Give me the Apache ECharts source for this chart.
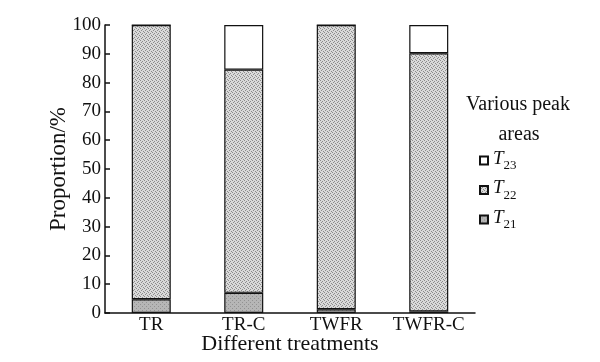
<!DOCTYPE html>
<html>
<head>
<meta charset="utf-8">
<script src="https://cdn.jsdelivr.net/npm/echarts@6/dist/echarts.min.js"></script>
<style>html,body{margin:0;padding:0;background:#fff}#c{width:600px;height:362px}</style>
</head>
<body>
<div id="c"></div>
<script>
var categories = ['TR', 'TR-C', 'TWFR', 'TWFR-C'];
var T21 = [4.8, 7.0, 1.3, 0.5];
var T22 = [95.2, 77.5, 98.7, 89.7];
var T23 = [0, 15.5, 0, 9.8];
var yTicks = { min: 0, max: 100, interval: 10 };

var FONT = "'Liberation Serif','Times New Roman',serif";

function makePattern(bg, dot, pts) {
  var c = document.createElement('canvas');
  c.width = 4; c.height = 4;
  var g = c.getContext('2d');
  g.fillStyle = bg; g.fillRect(0, 0, 4, 4);
  g.fillStyle = dot;
  pts.forEach(function (p) { g.fillRect(p[0], p[1], 1, 1); });
  return { image: c, repeat: 'repeat' };
}
var pat22 = makePattern('#dadada', '#8c8c8c', [[0,0],[2,1],[1,2],[3,3]]);
var pat21 = makePattern('#b6b6b6', '#929292', [[0,0],[2,2]]);

var chart = echarts.init(document.getElementById('c'));
function legendFmt(name) { return '{t|T}{s|' + name.slice(1) + '}'; }

chart.setOption({
  animation: false,
  backgroundColor: '#fff',
  grid: { left: 105, right: 125, top: 25, bottom: 49, outerBoundsMode: 'none', containLabel: false },
  xAxis: {
    type: 'category',
    data: categories,
    name: 'Different treatments',
    nameLocation: 'middle',
    nameGap: 20,
    nameMoveOverlap: false,
    nameTextStyle: { fontFamily: FONT, fontSize: 22, color: '#111' },
    axisLine: { lineStyle: { color: '#111', width: 1.5 } },
    axisTick: { inside: true, length: 6, lineStyle: { color: '#111', width: 1.5 } },
    axisLabel: { interval: 0, fontFamily: FONT, fontSize: 19, color: '#111', margin: 3 }
  },
  yAxis: {
    type: 'value',
    min: yTicks.min, max: yTicks.max, interval: yTicks.interval,
    name: 'Proportion/%',
    nameLocation: 'middle',
    nameGap: 35,
    nameMoveOverlap: false,
    nameRotate: 90,
    nameTextStyle: { fontFamily: FONT, fontSize: 23, color: '#111' },
    splitLine: { show: false },
    axisLine: { show: true, lineStyle: { color: '#111', width: 1.5 } },
    axisTick: { show: true, inside: true, length: 5, lineStyle: { color: '#111', width: 1.5 } },
    axisLabel: { fontFamily: FONT, fontSize: 19, color: '#111', margin: 4 }
  },
  legend: {
    orient: 'vertical',
    left: 479, top: 149,
    padding: 0,
    itemWidth: 8, itemHeight: 8,
    itemGap: 6,
    icon: 'rect',
    data: ['T23', 'T22', 'T21'],
    formatter: legendFmt,
    textStyle: {
      color: '#111',
      rich: {
        t: { fontFamily: FONT, fontStyle: 'italic', fontSize: 19, color: '#111', padding: [0, 0, 4, 0] },
        s: { fontFamily: FONT, fontSize: 13, color: '#111', padding: [11, 0, 0, 0] }
      }
    }
  },
  graphic: [
    { type: 'text', x: 518, y: 105, style: { text: 'Various peak', font: '20px ' + FONT, fill: '#111', textAlign: 'center', textVerticalAlign: 'middle' } },
    { type: 'text', x: 519, y: 135, style: { text: 'areas', font: '20px ' + FONT, fill: '#111', textAlign: 'center', textVerticalAlign: 'middle' } }
  ],
  series: [
    { name: 'T21', type: 'bar', stack: 'a', barWidth: 39, data: T21,
      itemStyle: { color: pat21, borderColor: '#111', borderWidth: 1.2 } },
    { name: 'T22', type: 'bar', stack: 'a', barWidth: 39, data: T22,
      itemStyle: { color: pat22, borderColor: '#111', borderWidth: 1.2 } },
    { name: 'T23', type: 'bar', stack: 'a', barWidth: 39, data: T23,
      itemStyle: { color: '#ffffff', borderColor: '#111', borderWidth: 1.2 } }
  ]
});
</script>
</body>
</html>
